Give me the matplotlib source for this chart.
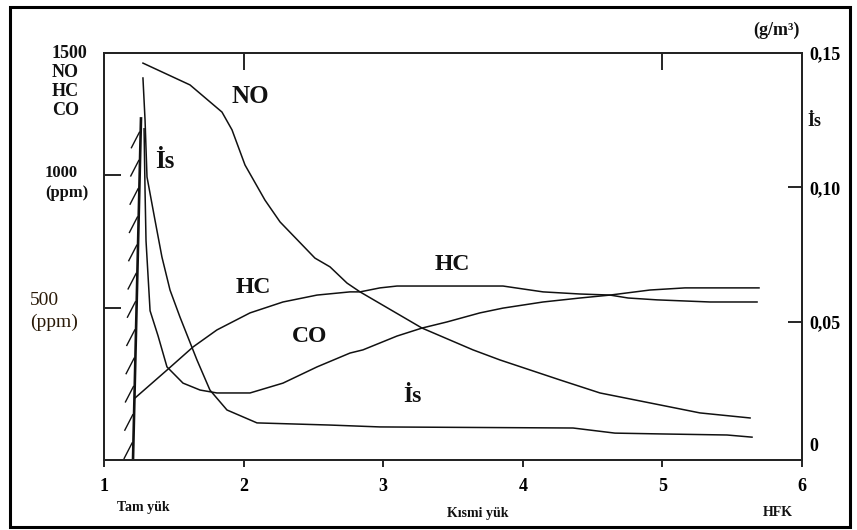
import matplotlib
matplotlib.use("Agg")
import matplotlib.pyplot as plt
import matplotlib.transforms as mtransforms
from matplotlib.patches import Rectangle
import numpy as np

plt.rcParams['font.family'] = ['Liberation Serif', 'DejaVu Serif']

# ---- data (x = lambda-like load ratio, ppm on left axis, g/m3 on right axis) ----
no_x = [1.279, 1.616, 1.845, 1.917, 2.010, 2.153, 2.261, 2.511, 2.619, 2.741, 2.834, 3.278, 3.643, 3.837, 4.266, 4.553, 4.983, 5.269, 5.628]
no_ppm = [1421, 1339, 1237, 1170, 1038, 906, 824, 688, 655, 594, 561, 425, 343, 305, 230, 181, 136, 106, 87]

hc_x = [1.222, 1.451, 1.638, 1.809, 2.046, 2.282, 2.526, 2.762, 2.834, 2.977, 3.099, 3.858, 4.001, 4.145, 4.410, 4.625, 4.754, 4.961, 5.341, 5.678]
hc_ppm = [162, 267, 354, 418, 482, 523, 549, 561, 561, 576, 583, 583, 572, 561, 553, 549, 538, 531, 523, 523]

co_x = [1.287, 1.294, 1.301, 1.330, 1.387, 1.451, 1.566, 1.688, 1.809, 2.046, 2.282, 2.526, 2.762, 2.855, 3.099, 3.278, 3.457, 3.693, 3.858, 4.145, 4.410, 4.625, 4.911, 5.162, 5.692]
co_ppm = [1174, 941, 753, 490, 396, 279, 218, 192, 181, 181, 218, 279, 331, 343, 395, 425, 448, 482, 500, 523, 538, 549, 568, 576, 576]

is_x = [1.279, 1.294, 1.308, 1.365, 1.415, 1.473, 1.544, 1.666, 1.759, 1.881, 2.096, 2.619, 2.977, 4.360, 4.660, 4.983, 5.463, 5.642]
is_gm3 = [0.1407, 0.1251, 0.1039, 0.0879, 0.0741, 0.0618, 0.0518, 0.0358, 0.0246, 0.0172, 0.0124, 0.0116, 0.0109, 0.0105, 0.0086, 0.0083, 0.0079, 0.0071]

limit_x = [1.208, 1.265]
limit_ppm = [-65, 1213]

x_ticks = [1, 2, 3, 4, 5, 6]
x_tick_labels = ['1', '2', '3', '4', '5', '6']
left_ticks = [500, 1000]
right_ticks = [0, 0.05, 0.10, 0.15]
right_tick_labels = ['0', '0,05', '0,10', '0,15']

W, H = 857, 530
fig = plt.figure(figsize=(W / 100, H / 100), dpi=100)
L, R, T, B = 104, 802, 53, 460
ax = fig.add_axes([L / W, 1 - B / H, (R - L) / W, (B - T) / H])
ax.set_xlim(1, 6)
ax.set_ylim(-71, 1459)
ax2 = ax.twinx()
ax2.set_ylim(-0.0014, 0.15)

for a in (ax, ax2):
    for s in a.spines.values():
        s.set_linewidth(1.3)
        s.set_color('#222222')

lw = 1.1
col = '#111111'
ax.plot(no_x, no_ppm, color=col, lw=lw)
ax.plot(hc_x, hc_ppm, color=col, lw=lw)
ax.plot(co_x, co_ppm, color=col, lw=lw)
ax2.plot(is_x, is_gm3, color=col, lw=lw)

# hatched limit line
ax.plot(limit_x, limit_ppm, color=col, lw=1.9)
ys = np.linspace(limit_ppm[0] + 30, limit_ppm[1] - 80, 12)
for yv in ys:
    xv = np.interp(yv, limit_ppm, limit_x)
    ax.plot([xv - 0.065, xv - 0.008], [yv - 30, yv + 28], color=col, lw=1.0)

# ticks
ax.set_xticks(x_ticks)
ax.set_xticklabels(x_tick_labels, fontsize=13, fontweight='bold')
ax.tick_params(axis='x', direction='out', length=5, width=1.2, pad=8)
ax.set_yticks(left_ticks)
ax.set_yticklabels([])
ax.tick_params(axis='y', direction='in', length=12, width=1.2)
ax2.set_yticks(right_ticks)
ax2.set_yticklabels(right_tick_labels, fontsize=13, fontweight='bold')
ax2.tick_params(axis='y', direction='in', length=10, width=1.2, pad=5)
ax2.yaxis.get_major_ticks()[0].tick2line.set_visible(False)
ax2.yaxis.get_major_ticks()[-1].tick2line.set_visible(False)
lbl0 = ax2.get_yticklabels()[0]
lbl0.set_transform(lbl0.get_transform() + mtransforms.ScaledTranslation(0, 12 / 100, fig.dpi_scale_trans))
secx = ax.secondary_xaxis('top')
secx.set_xticks([2, 5])
secx.set_xticklabels([])
secx.tick_params(direction='in', length=12, width=1.2)
secx.spines['top'].set_visible(False)

# left axis text
bold = dict(fontweight='bold', color='#111111')
fig.text(52 / W, 1 - 45 / H, '1500\nNO\nHC\nCO', fontsize=13, va='top', ha='left', linespacing=1.15, **bold)
fig.text(45 / W, 1 - 165 / H, '1000\n(ppm)', fontsize=12, va='top', ha='left', linespacing=1.3, **bold)
fig.text(30 / W, 1 - 292 / H, '500\n(ppm)', fontsize=14, va='top', ha='left', linespacing=1.35, color='#2a1a08')
fig.text(776 / W, 1 - 30 / H, '(g/m³)', fontsize=13, ha='center', va='center', **bold)
fig.text(807 / W, 1 - 122 / H, 'İs', fontsize=13, ha='left', va='center', **bold)

# curve labels
ax.text(1 + (250 - 104) / 139.6, 1459 - (97 - 53) * 3.759, 'NO', fontsize=18, ha='center', va='center', **bold)
ax.text(1 + (165 - 104) / 139.6, 1459 - (162 - 53) * 3.759, 'İs', fontsize=18, ha='center', va='center', **bold)
ax.text(1 + (253 - 104) / 139.6, 1459 - (288 - 53) * 3.759, 'HC', fontsize=17, ha='center', va='center', **bold)
ax.text(1 + (310 - 104) / 139.6, 1459 - (337 - 53) * 3.759, 'CO', fontsize=17, ha='center', va='center', **bold)
ax.text(1 + (452 - 104) / 139.6, 1459 - (265 - 53) * 3.759, 'HC', fontsize=17, ha='center', va='center', **bold)
ax.text(1 + (412 - 104) / 139.6, 1459 - (397 - 53) * 3.759, 'İs', fontsize=17, ha='center', va='center', **bold)

# bottom labels
fig.text(143 / W, 1 - 508 / H, 'Tam yük', fontsize=10, ha='center', va='center', **bold)
fig.text(478 / W, 1 - 513 / H, 'Kısmi yük', fontsize=10, ha='center', va='center', **bold)
fig.text(778 / W, 1 - 513 / H, 'HFK', fontsize=10, ha='center', va='center', **bold)

# outer frame
fig.patches.append(Rectangle((10 / W, 1 - 527 / H), 840 / W, 520 / H, transform=fig.transFigure,
                             fill=False, lw=2.2, edgecolor='black'))

fig.savefig('out.png', dpi=100)
